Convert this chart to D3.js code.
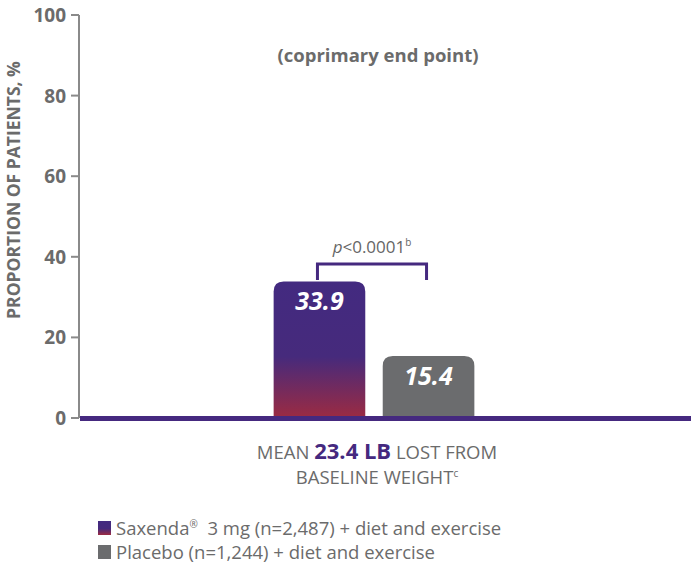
<!DOCTYPE html>
<html><head><meta charset="utf-8">
<script src="https://cdn.jsdelivr.net/npm/d3@7"></script>
<style>body{margin:0;background:#fff;font-family:"Open Sans",sans-serif;}</style>
</head><body><div id="main"></div>
<script>
var groups = ["Saxenda", "Placebo"];
var values = [33.9, 15.4];
var ticks = [0, 20, 40, 60, 80, 100];
var legendLabels = [["Saxenda", "\u00ae", "  3 mg (n=2,487) + diet and exercise"], ["Placebo (n=1,244) + diet and exercise", "", ""]];

var width = 691, height = 571;
var svg = d3.select("#main").append("svg").attr("width", width).attr("height", height);
var defs = svg.append("defs");
var grad = defs.append("linearGradient").attr("id", "sax").attr("x1", 0).attr("x2", 0).attr("y1", 0).attr("y2", 1);
grad.append("stop").attr("offset", "0%").attr("stop-color", "#432a80");
grad.append("stop").attr("offset", "55%").attr("stop-color", "#462a7c");
grad.append("stop").attr("offset", "100%").attr("stop-color", "#9c2b42");

var y = d3.scaleLinear().domain([0, 100]).range([418, 15]);
var x = d3.scaleBand().domain(groups).range([266, 482]).paddingInner(0.16).paddingOuter(0.07);

// axis
svg.append("line").attr("x1", 79).attr("x2", 79).attr("y1", y(100)).attr("y2", y(0)).attr("stroke", "#8a8a8a").attr("stroke-width", 2);
var tg = svg.selectAll(".tk").data(ticks).enter().append("g");
tg.append("line").attr("x1", 71).attr("x2", 79).attr("y1", d => y(d)).attr("y2", d => y(d)).attr("stroke", "#8a8a8a").attr("stroke-width", 2);
tg.append("text").attr("x", 66).attr("y", d => y(d) + 7).attr("text-anchor", "end")
  .attr("font-size", 19).attr("font-weight", 700).attr("fill", "#6b6b6b").text(d => d);
svg.append("text").attr("transform", "translate(20,190) rotate(-90)").attr("text-anchor", "middle")
  .attr("font-size", 17.5).attr("font-weight", 700).attr("fill", "#6b6b6b").text("PROPORTION OF PATIENTS, %");

svg.append("text").attr("x", 378).attr("y", 62).attr("text-anchor", "middle").attr("font-size", 18.5)
  .attr("font-weight", 700).attr("fill", "#6b6b6b").text("(coprimary end point)");

// bars with rounded tops
function barPath(d, i) {
  var x0 = x(groups[i]), w = x.bandwidth(), y0 = y(d), yb = y(0), r = 10;
  return "M" + x0 + "," + yb + "V" + (y0 + r) + "Q" + x0 + "," + y0 + " " + (x0 + r) + "," + y0 +
    "H" + (x0 + w - r) + "Q" + (x0 + w) + "," + y0 + " " + (x0 + w) + "," + (y0 + r) + "V" + yb + "Z";
}
svg.selectAll(".bar").data(values).enter().append("path")
  .attr("d", barPath).attr("fill", (d, i) => i === 0 ? "url(#sax)" : "#6b6c6e");
svg.selectAll(".val").data(values).enter().append("text")
  .attr("x", (d, i) => x(groups[i]) + x.bandwidth() / 2).attr("y", d => y(d) + 29)
  .attr("text-anchor", "middle").attr("font-size", 25).attr("font-weight", 700).attr("font-style", "italic")
  .attr("fill", "#fff").text(d => d.toFixed(1));

// baseline
svg.append("rect").attr("x", 80).attr("y", y(0) - 2).attr("width", width - 80).attr("height", 5).attr("fill", "#45297f");

// bracket
var bx1 = x(groups[0]) + x.bandwidth() / 2 - 2, bx2 = x(groups[1]) + x.bandwidth() / 2 - 2;
svg.append("path").attr("d", "M" + bx1 + ",280V264H" + bx2 + "V280").attr("fill", "none").attr("stroke", "#45297f").attr("stroke-width", 3);
var pt = svg.append("text").attr("x", (bx1 + bx2) / 2).attr("y", 253).attr("text-anchor", "middle").attr("font-size", 17).attr("fill", "#666");
pt.append("tspan").attr("font-style", "italic").text("p");
pt.append("tspan").text("<0.0001");
pt.append("tspan").attr("font-size", 10).attr("dy", -7).text("b");

// caption
var c1 = svg.append("text").attr("x", 377).attr("y", 459).attr("text-anchor", "middle").attr("font-size", 18.5).attr("fill", "#6b6b6b");
c1.append("tspan").text("MEAN ");
c1.append("tspan").attr("font-size", 22).attr("font-weight", 700).attr("fill", "#45297f").text("23.4 LB");
c1.append("tspan").text(" LOST FROM");
var c2 = svg.append("text").attr("x", 377).attr("y", 484).attr("text-anchor", "middle").attr("font-size", 18.5).attr("fill", "#6b6b6b");
c2.append("tspan").text("BASELINE WEIGHT");
c2.append("tspan").attr("font-size", 10).attr("dy", -7).text("c");

// legend
var lg = svg.selectAll(".lg").data(legendLabels).enter().append("g").attr("transform", (d, i) => "translate(98," + (521 + i * 24) + ")");
lg.append("rect").attr("width", 13).attr("height", 14).attr("fill", (d, i) => i === 0 ? "url(#sax)" : "#6b6c6e");
var lt = lg.append("text").attr("x", 18).attr("y", 14).attr("font-size", 18.5).attr("fill", "#6b6b6b");
lt.append("tspan").text(d => d[0]);
lt.append("tspan").attr("font-size", 10).attr("dy", -7).text(d => d[1]);
lt.append("tspan").attr("dy", d => d[1] ? 7 : 0).attr("xml:space", "preserve").style("white-space", "pre").text(d => d[2]);
</script></body></html>
